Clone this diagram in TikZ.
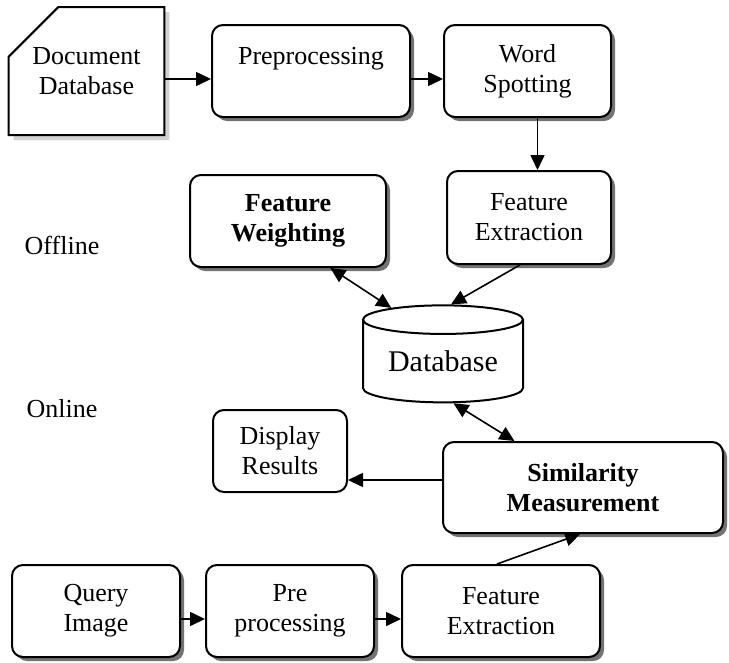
\documentclass[tikz,border=0pt]{standalone}
\usepackage{fontspec}
\setmainfont{Liberation Serif}
\usetikzlibrary{calc,positioning,arrows.meta,shapes.misc,shapes.geometric,shadows}

\begin{document}
\begin{tikzpicture}[x=1pt,y=-1pt,>={Triangle[length=15pt,width=14pt]},
	every node/.style={font=\fontsize{26}{30}\selectfont},
	plainbox/.style={draw,line width=2pt,rounded corners=11pt,fill=white,align=center,inner sep=0pt},
	box/.style={plainbox,drop shadow={shadow xshift=4pt,shadow yshift=-4pt,fill=black!55,opacity=1}},
	link/.style={line width=1.6pt}]
	\useasboundingbox (0,0) rectangle (729,662);

	% offline part
	\node[draw,line width=2pt,fill=white,align=center,inner sep=0pt,
		chamfered rectangle,chamfered rectangle corners=north west,
		chamfered rectangle xsep=32pt,chamfered rectangle ysep=26pt,
		minimum width=153pt,minimum height=128pt,
		drop shadow={shadow xshift=5pt,shadow yshift=-5pt,fill=gray!35,opacity=1}]
		(docdb) at (86.5,71) {Document\\Database};
	\node[box,minimum width=198pt,minimum height=92pt] (prep) at (311,71) {Preprocessing\\~};
	\node[box,minimum width=167pt,minimum height=92pt] (word) at (527.5,71) {Word\\Spotting};
	\node[box,minimum width=164pt,minimum height=93pt] (fextr) at (529,217.5) {Feature\\Extraction};
	\node[box,minimum width=196pt,minimum height=92pt,font=\fontsize{26}{30}\selectfont\bfseries] (fweight) at (288,221) {Feature\\Weighting};
	\node[] (offline) at (62,245) {Offline};

	\node[draw,line width=2pt,fill=white,cylinder,shape border rotate=90,aspect=0.26,
		minimum width=160pt,minimum height=97pt,inner sep=0pt,
		font=\fontsize{30}{30}\selectfont] (db) at (443,361.5) {Database};

	% online part
	\node[] (online) at (62,409) {Online};
	\node[plainbox,minimum width=134pt,minimum height=82pt] (display) at (280,451) {Display\\Results};
	\node[box,minimum width=280pt,minimum height=91pt,font=\fontsize{26}{30}\selectfont\bfseries] (simil) at (583,487.5) {Similarity\\Measurement};
	\node[box,minimum width=168pt,minimum height=92pt] (query) at (96,611) {Query\\Image};
	\node[box,minimum width=168pt,minimum height=92pt] (qprep) at (290,611) {Pre\\processing};
	\node[box,minimum width=198pt,minimum height=92pt] (qextr) at (501,611) {Feature\\Extraction};

	% arrows offline
	\draw[link,->] ([yshift=-8pt]docdb.east) -- ([yshift=-8pt]prep.west);
	\draw[link,->] ([yshift=-8pt]prep.east) -- ([yshift=-8pt]word.west);
	\draw[link,->] ([xshift=10pt]word.south) -- ([xshift=10pt]word.south |- fextr.north);
	\draw[link,<->] ($(fweight.south west)!0.714!(fweight.south east)$) -- (db.134);
	\draw[link,->] ($(fextr.south west)!0.445!(fextr.south east)$) -- (db.82);

	% arrows online
	\draw[link,<->] (db.284) -- ($(simil.north west)!0.257!(simil.north east)$);
	\draw[link,->] ([yshift=7.5pt]simil.west) -- ([yshift=7.5pt]simil.west -| display.east);
	\draw[link,->] ([yshift=-8pt]query.east) -- ([yshift=-8pt]qprep.west);
	\draw[link,->] ([yshift=-8pt]qprep.east) -- ([yshift=-8pt]qextr.west);
	\draw[link,->] ($(qextr.north west)!0.48!(qextr.north east)$) -- ($(simil.south west)!0.49!(simil.south east)$);
\end{tikzpicture}
\end{document}
